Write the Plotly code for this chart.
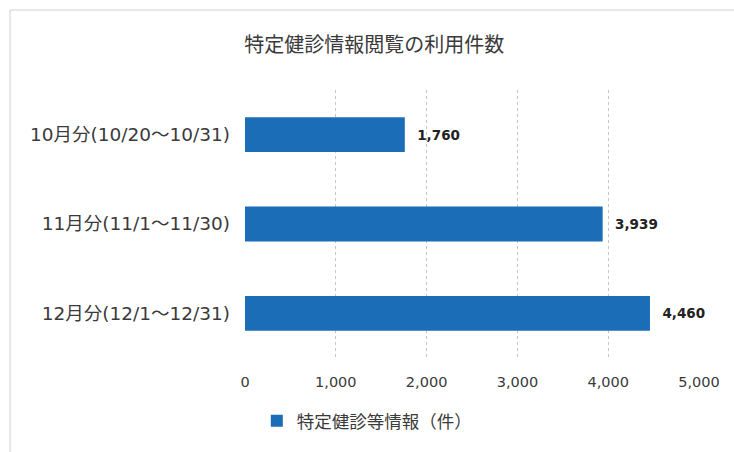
import plotly.graph_objects as go

categories = ["10月分(10/20～10/31)", "11月分(11/1～11/30)", "12月分(12/1～12/31)"]
values = [1760, 3939, 4460]
series_name = "特定健診等情報（件）"
title_text = "特定健診情報閲覧の利用件数"
x_ticks = [0, 1000, 2000, 3000, 4000, 5000]
x_tick_labels = ["0", "1,000", "2,000", "3,000", "4,000", "5,000"]

JP = "Noto Sans CJK JP"
LAT = "DejaVu Sans, Noto Sans CJK JP"
BAR = "#1B6DB8"
TXT = "#3a3a3a"

fig = go.Figure()
fig.add_trace(go.Bar(
    y=categories, x=values, orientation="h", name=series_name,
    marker=dict(color=BAR, line=dict(width=0)),
    width=0.39,
    texttemplate="\u00a0\u00a0%{x:,}", textposition="outside",
    textfont=dict(family=LAT, size=13.5, color="#222222", weight="bold"),
    cliponaxis=False, showlegend=True,
))

fig.update_layout(
    width=734, height=452,
    margin=dict(l=245, r=35, t=90, b=94),
    paper_bgcolor="white", plot_bgcolor="white",
    font=dict(family=JP, color=TXT),
    title=dict(text=title_text, x=0.51, xanchor="center", y=0.9, yanchor="middle",
               font=dict(family=JP, size=20, color=TXT)),
    showlegend=True,
    legend=dict(orientation="h", x=0.026, xanchor="left", y=-0.235, yanchor="middle",
                font=dict(family=JP, size=17.5, color=TXT), itemwidth=30),
    bargap=0.6,
)
fig.update_xaxes(range=[0, 5000], tickvals=x_ticks, ticktext=x_tick_labels,
                 showgrid=True, gridcolor="#c4c4c4", griddash="dot", gridwidth=1,
                 zeroline=False, showline=False, ticks="",
                 tickfont=dict(family=LAT, size=14.5, color=TXT), ticklabelstandoff=13)
fig.update_yaxes(autorange="reversed", showgrid=False, showline=False, ticks="",
                 tickfont=dict(family=LAT, size=18.5, color=TXT), ticklabelstandoff=14)

# faint frame lines (top and left) as in the scanned reference
fig.add_shape(type="line", xref="paper", yref="paper",
              x0=(10-245)/454, x1=(734-245)/454, y0=(452-94-10)/268, y1=(452-94-10)/268,
              line=dict(color="#d0d0d0", width=1))
fig.add_shape(type="line", xref="paper", yref="paper",
              x0=(10-245)/454, x1=(10-245)/454, y0=(452-94-10)/268, y1=-94/268,
              line=dict(color="#d0d0d0", width=1))

fig.write_html("out.html")
